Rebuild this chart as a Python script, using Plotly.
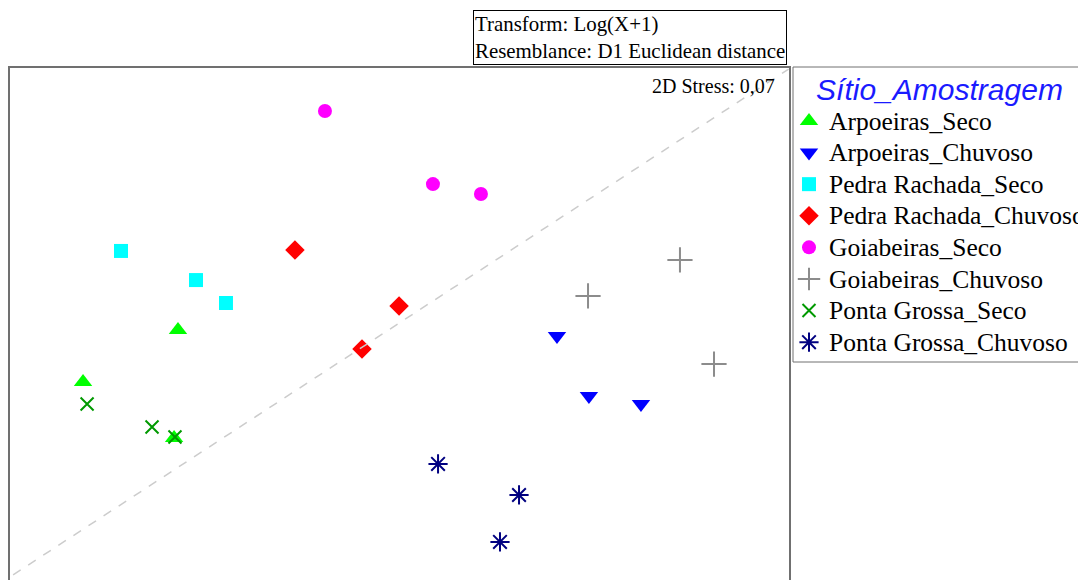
import plotly.graph_objects as go

# NMDS coordinates
groups = ["Arpoeiras_Seco", "Arpoeiras_Chuvoso", "Pedra Rachada_Seco", "Pedra Rachada_Chuvoso",
          "Goiabeiras_Seco", "Goiabeiras_Chuvoso", "Ponta Grossa_Seco", "Ponta Grossa_Chuvoso"]
arp_seco_x = [-1.477, -2.110, -1.503]
arp_seco_y = [-0.040, -0.387, -0.760]
arp_chuv_x = [1.050, 1.263, 1.610]
arp_chuv_y = [-0.080, -0.480, -0.533]
pr_seco_x = [-1.857, -1.357, -1.157]
pr_seco_y = [0.487, 0.293, 0.140]
pr_chuv_x = [-0.697, -0.003, -0.250]
pr_chuv_y = [0.493, 0.120, -0.167]
goi_seco_x = [-0.497, 0.223, 0.543]
goi_seco_y = [1.420, 0.933, 0.867]
goi_chuv_x = [1.870, 1.257, 2.097]
goi_chuv_y = [0.427, 0.187, -0.267]
pg_seco_x = [-2.083, -1.650, -1.497]
pg_seco_y = [-0.533, -0.687, -0.753]
pg_chuv_x = [0.257, 0.797, 0.670]
pg_chuv_y = [-0.933, -1.140, -1.453]

xs = [arp_seco_x, arp_chuv_x, pr_seco_x, pr_chuv_x, goi_seco_x, goi_chuv_x, pg_seco_x, pg_chuv_x]
ys = [arp_seco_y, arp_chuv_y, pr_seco_y, pr_chuv_y, goi_seco_y, goi_chuv_y, pg_seco_y, pg_chuv_y]
symbols = ["triangle-up", "triangle-down", "square", "diamond", "circle", "cross-thin", "x-thin", "asterisk"]
colors = ["#00ff00", "#0000ff", "#00ffff", "#ff0000", "#ff00ff", "#8c8c8c", "#009900", "#000080"]
sizes = [16, 16, 14, 15, 14, 18, 13, 16]
line_only = [False, False, False, False, False, True, True, True]

# page has an 8px body margin; place everything relative to that
OFF = 8
W, H = 1086 - OFF, 580 - OFF
fig = go.Figure()
for g, x, y, s, c, sz, lo in zip(groups, xs, ys, symbols, colors, sizes, line_only):
    if lo:
        marker = dict(symbol=s, size=sz, color=c, line=dict(color=c, width=2))
    else:
        marker = dict(symbol=s, size=sz, color=c, line=dict(width=0))
    fig.add_trace(go.Scatter(x=x, y=y, mode="markers",
                             name=f'<span style="font-size:25.5px">{g}</span>', marker=marker))

xl, xr, yt = 10 - OFF, 789 - OFF, 68 - OFF
serif = "Liberation Serif, Times New Roman, serif"
fig.update_layout(
    width=W, height=H,
    margin=dict(l=0, r=0, t=0, b=0, autoexpand=False),
    plot_bgcolor="white", paper_bgcolor="white",
    font=dict(family=serif, color="black"),
    xaxis=dict(domain=[xl / W, xr / W], range=[-2.597, 2.597], showgrid=False, zeroline=False,
               showticklabels=False, ticks="", showline=True, side="top", linecolor="#707070",
               linewidth=1.5),
    yaxis=dict(domain=[0, 1 - yt / H], range=[-1.707, 1.707], showgrid=False, zeroline=False,
               showticklabels=False, ticks="", showline=True, mirror=True, linecolor="#707070",
               linewidth=1.5),
    legend=dict(x=(789 - OFF) / W, y=1 - (67 - OFF) / H, xanchor="left", yanchor="top",
                borderwidth=0, bgcolor="rgba(0,0,0,0)",
                font=dict(size=22, family=serif, color="black"),
                title=dict(text='<span style="font-size:30px"><i>Sítio_Amostragem</i></span>',
                           side="top center",
                           font=dict(size=25.5, family="Liberation Sans, Arial, sans-serif", color="#1a1aff")),
                itemsizing="trace", tracegroupgap=0),
    shapes=[
        dict(type="line", xref="x domain", yref="y domain", x0=0.004, y0=0.01, x1=0.9995, y1=0.998,
             line=dict(color="#cccccc", width=1.5, dash="dash")),
        dict(type="rect", xref="paper", yref="paper", x0=(793 - OFF) / W, x1=1.05,
             y0=1 - (362 - OFF) / H, y1=1 - (67 - OFF) / H, line=dict(color="#707070", width=1),
             layer="below"),
    ],
    annotations=[
        dict(text="Transform: Log(X+1)<br>Resemblance: D1 Euclidean distance", xref="paper", yref="paper",
             x=(787 - OFF) / W, y=1 - (10 - OFF) / H, xanchor="right", yanchor="top", align="left",
             showarrow=False, bordercolor="black", borderwidth=1, borderpad=1, bgcolor="white",
             font=dict(size=20.9, family=serif, color="black")),
        dict(text="2D Stress: 0,07", xref="paper", yref="paper", x=(777 - OFF) / W, y=1 - (86 - OFF) / H,
             xanchor="right", yanchor="middle", showarrow=False,
             font=dict(size=20, family=serif, color="black")),
    ],
)
fig.write_html("out.html")
